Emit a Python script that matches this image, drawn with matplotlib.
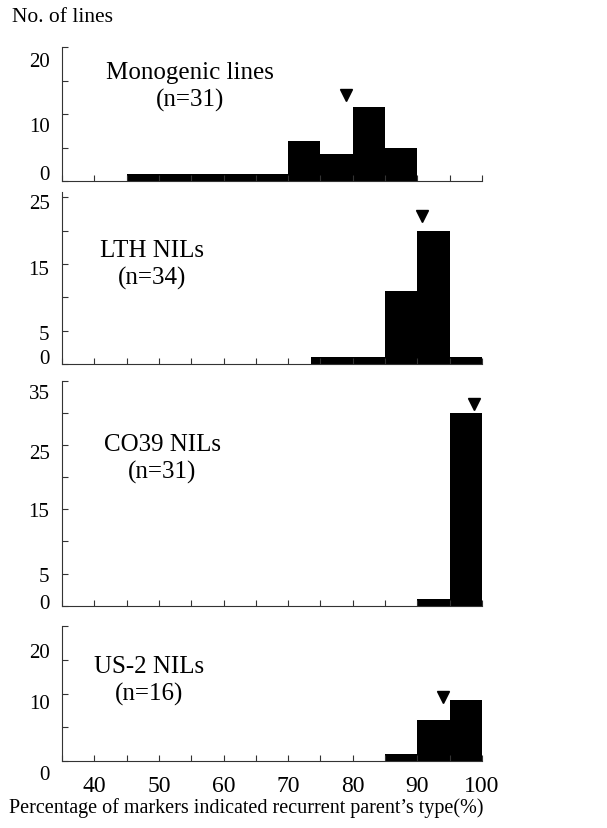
import numpy as np
import matplotlib
matplotlib.use("Agg")
import matplotlib.pyplot as plt
from matplotlib.transforms import ScaledTranslation

plt.rcParams['font.family'] = ['Liberation Serif', 'DejaVu Serif']

# Histogram data (bin edges in %, counts = no. of lines)
mono_edges = [45, 50, 55, 60, 65, 70, 75, 80, 85, 90]
mono_counts = [1, 1, 1, 1, 1, 6, 4, 11, 5]
lth_edges = [73.5, 80, 85, 90, 95, 100]
lth_counts = [1, 1, 11, 20, 1]
co39_edges = [90, 95, 100]
co39_counts = [1, 30]
us2_edges = [85, 90, 95, 100]
us2_counts = [1, 6, 9]

# mean markers (x %, y count)
mono_mean = (79, 12.8)
lth_mean = (90.7, 22.2)
co39_mean = (98.8, 31.4)
us2_mean = (93.9, 9.5)

names = ["Monogenic lines\n(n=31)", "LTH NILs\n(n=34)", "CO39 NILs\n(n=31)", "US-2 NILs\n(n=16)"]
ymax = [20, 25.75, 35, 20]
yticks = [[0, 5, 10, 15, 20], [0, 5, 10, 15, 20, 25], list(range(0, 36, 5)), [0, 5, 10, 15, 20]]
ylabels = [["0", "", "10", "", "20"], ["0", "5", "", "15", "", "25"],
           ["0", "5", "", "15", "", "25", "", "35"], ["0", "", "10", "", "20"]]
# vertical nudges of the y tick labels in pixels (+ = up), the original labels sit off their ticks
ylabel_nudge = [[9, 0, -10, 0, -12], [8, -1, 0, -3, 0, -4],
                [5, 0, 0, 0, 0, -6, 0, -10], [-11, 0, -8, 0, -24]]
label_pos = [(54.8, 14.2), (48.9, 15.0), (50.5, 23.0), (48.4, 12.0)]

edges = [mono_edges, lth_edges, co39_edges, us2_edges]
counts = [mono_counts, lth_counts, co39_counts, us2_counts]
means = [mono_mean, lth_mean, co39_mean, us2_mean]

W, H = 607, 829
fig = plt.figure(figsize=(W / 100, H / 100), dpi=100)

# panel pixel extents (top, bottom)
panels_px = [(48.3, 182), (193.3, 365), (381.7, 606.7), (627.3, 761.7)]
left, right = 62, 482

for i in range(4):
    top, bot = panels_px[i]
    ax = fig.add_axes([left / W, 1 - bot / H, (right - left) / W, (bot - top) / H])
    ax.stairs(counts[i], edges[i], fill=True, color='black', baseline=0)
    ax.plot(means[i][0], means[i][1], marker='v', color='black', markersize=8, linestyle='none')
    ax.set_xlim(35, 100)
    ax.set_ylim(0, ymax[i])
    for s in ['top', 'right']:
        ax.spines[s].set_visible(False)
    for s in ['left', 'bottom']:
        ax.spines[s].set_linewidth(0.8)
        ax.spines[s].set_color('#333333')
    ax.set_yticks(yticks[i])
    ax.set_yticklabels(ylabels[i], fontsize=15)
    ax.set_xticks(np.arange(40, 101, 10))
    ax.set_xticks(np.arange(35, 101, 5), minor=True)
    ax.tick_params(axis='both', which='both', direction='in', length=4, width=0.8, color='#333333')
    ax.tick_params(axis='y', pad=9)
    if i < 3:
        ax.set_xticklabels([])
    else:
        ax.set_xticklabels([str(v) for v in range(40, 101, 10)], fontsize=17)
        ax.tick_params(axis='x', pad=10)
    for tk, dy in zip(ax.yaxis.get_major_ticks(), ylabel_nudge[i]):
        if dy:
            tk.label1.set_transform(tk.label1.get_transform()
                                    + ScaledTranslation(0, dy / 100, fig.dpi_scale_trans))
    ax.text(label_pos[i][0], label_pos[i][1], names[i], ha='center', va='center',
            fontsize=18, linespacing=1.25)

fig.text(12 / W, 1 - 17 / H, "No. of lines", ha='left', va='center', fontsize=15.5)
fig.text(246 / W, 1 - 808 / H, "Percentage of markers indicated recurrent parent\u2019s type(%)",
         ha='center', va='center', fontsize=14.5)

fig.savefig("out.png", dpi=100)
